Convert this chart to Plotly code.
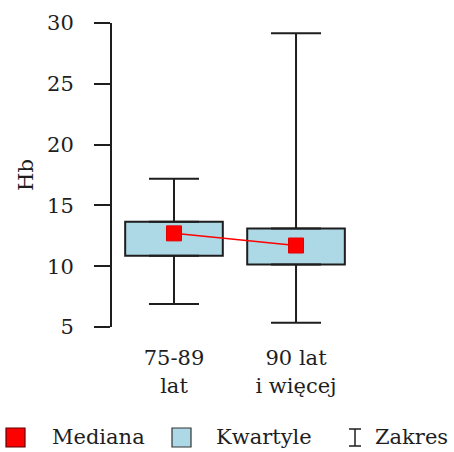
import plotly.graph_objects as go

# Hb by age group: quartiles, medians and range
groups = ["75-89<br>lat", "90 lat<br>i więcej"]
hb_min = [6.9, 5.35]
hb_q1 = [10.85, 10.15]
hb_median = [12.7, 11.7]
hb_q3 = [13.65, 13.1]
hb_max = [17.2, 29.15]

y_ticks = [5, 10, 15, 20, 25, 30]
legend_labels = ["Mediana", "Kwartyle", "Zakres"]

W, H = 454, 452
L, R, T, B = 112, 54, 23, 125
FONT = "DejaVu Serif"
FS = 21
INK = "#1e1e1e"
BOX_FILL = "#add8e6"
RED = "#ff0000"

xs = list(range(len(groups)))

fig = go.Figure()

# interquartile boxes
fig.add_trace(go.Bar(
    x=xs, y=[q3 - q1 for q1, q3 in zip(hb_q1, hb_q3)], base=hb_q1, width=0.8,
    marker=dict(color=BOX_FILL, line=dict(color=INK, width=2)),
    showlegend=False, hoverinfo="skip",
))

# whiskers: upper from Q3 to max, lower from Q1 to min
fig.add_trace(go.Scatter(
    x=xs, y=hb_q3, mode="markers", marker=dict(size=1, color="rgba(0,0,0,0)"),
    error_y=dict(type="data", symmetric=False,
                 array=[mx - q3 for mx, q3 in zip(hb_max, hb_q3)],
                 arrayminus=[0] * len(xs), width=25, thickness=2, color=INK),
    showlegend=False, hoverinfo="skip",
))
fig.add_trace(go.Scatter(
    x=xs, y=hb_q1, mode="markers", marker=dict(size=1, color="rgba(0,0,0,0)"),
    error_y=dict(type="data", symmetric=False, array=[0] * len(xs),
                 arrayminus=[q1 - mn for q1, mn in zip(hb_q1, hb_min)],
                 width=25, thickness=2, color=INK),
    showlegend=False, hoverinfo="skip",
))

# medians joined by a line
fig.add_trace(go.Scatter(
    x=xs, y=hb_median, mode="lines+markers",
    line=dict(color=RED, width=1.5),
    marker=dict(symbol="square", size=15, color=RED, line=dict(color="#e00000", width=1)),
    showlegend=False, hoverinfo="skip",
))

pw, ph = W - L - R, H - T - B


def px_x(p):
    return (p - L) / pw


def px_y(p):
    return (H - B - p) / ph


shapes = []
annotations = []
# legend row drawn below the plot
legend_y0, legend_y1 = 428, 447
shapes.append(dict(type="rect", xref="paper", yref="paper",
                   x0=px_x(6), x1=px_x(25), y0=px_y(legend_y1), y1=px_y(legend_y0),
                   fillcolor=RED, line=dict(color="#600000", width=1.2)))
shapes.append(dict(type="rect", xref="paper", yref="paper",
                   x0=px_x(172), x1=px_x(191), y0=px_y(legend_y1), y1=px_y(legend_y0),
                   fillcolor=BOX_FILL, line=dict(color="#333333", width=1.2)))
for seg in [(355, 429, 355, 446), (349, 429, 361, 429), (349, 446, 361, 446)]:
    shapes.append(dict(type="line", xref="paper", yref="paper",
                       x0=px_x(seg[0]), y0=px_y(seg[1]), x1=px_x(seg[2]), y1=px_y(seg[3]),
                       line=dict(color=INK, width=1.5)))
for label, xpx in zip(legend_labels, [50, 214, 373]):
    annotations.append(dict(text=label, xref="paper", yref="paper",
                            x=px_x(xpx), y=px_y(437), xanchor="left", yanchor="middle",
                            showarrow=False, font=dict(family=FONT, size=FS, color=INK)))

fig.update_layout(
    width=W, height=H,
    margin=dict(l=L, r=R, t=T, b=B),
    paper_bgcolor="white", plot_bgcolor="white",
    showlegend=False,
    font=dict(family=FONT, size=FS, color=INK),
    shapes=shapes, annotations=annotations,
    xaxis=dict(range=[-0.508, 1.852], tickvals=xs, ticktext=groups,
               showline=False, showgrid=False, zeroline=False,
               ticks="outside", ticklen=12, tickcolor="rgba(0,0,0,0)",
               tickfont=dict(family=FONT, size=FS, color=INK)),
    yaxis=dict(range=[5, 30], tickvals=y_ticks, showline=True, linewidth=2, linecolor=INK,
               ticks="outside", ticklen=16, tickwidth=2, tickcolor=INK,
               showgrid=False, zeroline=False, ticklabelstandoff=16,
               tickfont=dict(family=FONT, size=FS, color=INK),
               title=dict(text="Hb", standoff=8, font=dict(family=FONT, size=FS, color=INK))),
)

fig.write_html("out.html")
